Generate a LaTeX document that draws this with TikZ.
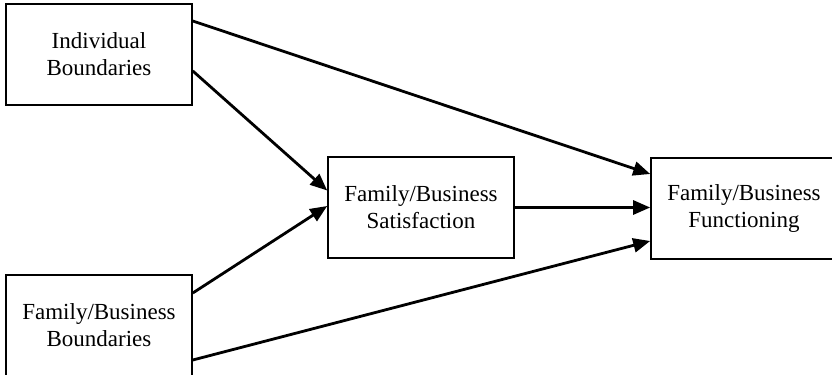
\documentclass[tikz,border=0pt]{standalone}
\usepackage{fontspec}
\setmainfont{Liberation Serif}
\usetikzlibrary{arrows.meta}
\begin{document}
\begin{tikzpicture}[x=0.5pt,y=-0.5pt,
  box/.style={draw,line width=0.8pt,rectangle,minimum width=93pt,minimum height=50.5pt,
    align=center,inner sep=0pt,font=\fontsize{11.5pt}{13.4pt}\selectfont},
  conn/.style={line width=1.4pt,-{Triangle[length=8.5pt,width=7pt]}}]
\useasboundingbox (0,0) rectangle (832,375);
\node[box] (ib) at (99,54.5) {Individual\\Boundaries};
\node[box] (fbb) at (99,325.5) {Family/Business\\Boundaries};
\node[box] (fbs) at (421,207.5) {Family/Business\\Satisfaction};
\node[box] (fbf) at (744,208.5) {Family/Business\\Functioning};
\draw[conn] ([yshift=16.75pt]ib.east) -- ([yshift=17.25pt]fbf.west);
\draw[conn] ([yshift=-8.25pt]ib.east) -- ([yshift=8.5pt]fbs.west);
\draw[conn] ([yshift=16.25pt]fbb.east) -- ([yshift=0.75pt]fbs.west);
\draw[conn] (fbs.east) -- (fbf.west |- fbs.east);
\draw[conn] ([yshift=-17.25pt]fbb.east) -- ([yshift=-16.25pt]fbf.west);
\end{tikzpicture}
\end{document}
